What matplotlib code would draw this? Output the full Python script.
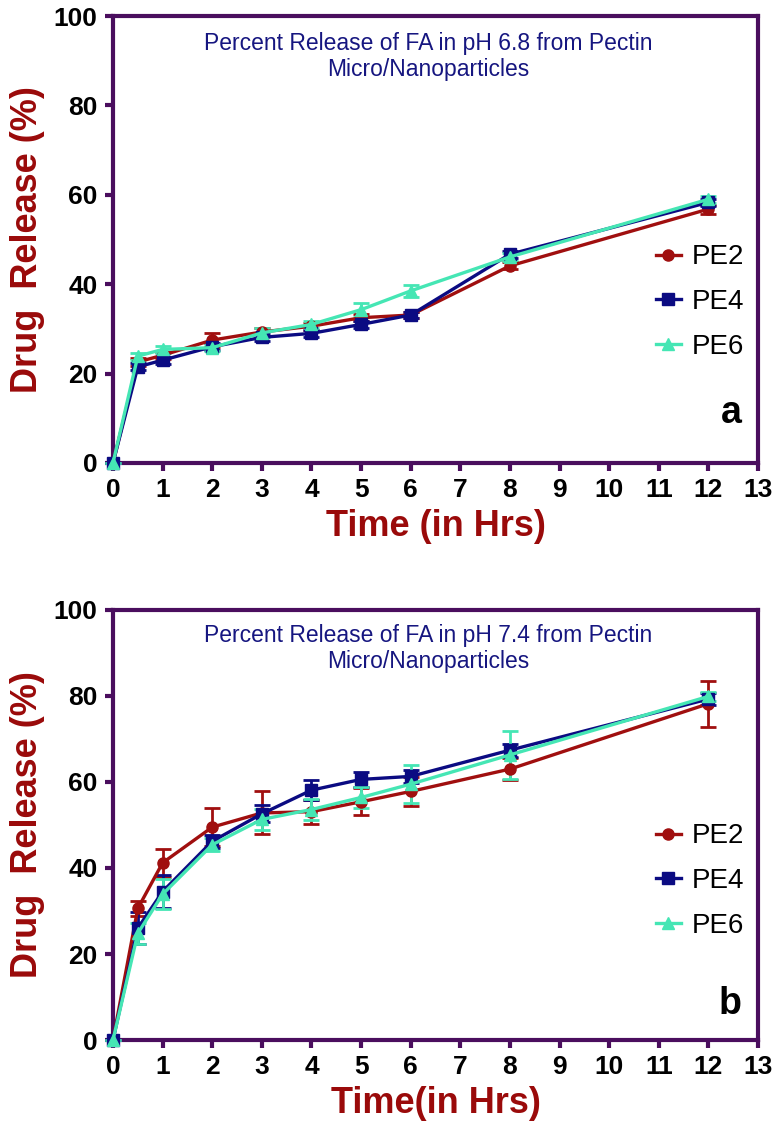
import numpy as np
import matplotlib
matplotlib.use('Agg')
import matplotlib.pyplot as plt

plt.rcParams['font.family'] = ['Liberation Sans', 'DejaVu Sans']

# time points (hours)
time_h = [0, 0.5, 1, 2, 3, 4, 5, 6, 8, 12]
series_names = ['PE2', 'PE4', 'PE6']

# panel a: pH 6.8
a_pe2 = [0, 22.6, 24.1, 27.5, 29.3, 30.6, 32.5, 33.1, 44.1, 56.8]
a_pe4 = [0, 21.5, 23.0, 26.0, 28.1, 29.0, 31.0, 33.1, 46.7, 58.3]
a_pe6 = [0, 23.9, 25.4, 25.8, 29.1, 31.0, 34.3, 38.5, 46.1, 59.0]
a_pe2_err = [0, 0.8, 0.8, 1.5, 0.8, 0.8, 0.8, 0.6, 0.8, 1.0]
a_pe4_err = [0, 0.8, 0.8, 0.8, 0.8, 0.8, 0.8, 0.6, 0.8, 0.8]
a_pe6_err = [0, 0.8, 0.8, 0.8, 1.0, 0.8, 1.6, 1.4, 0.8, 0.8]

# panel b: pH 7.4
b_pe2 = [0, 30.6, 41.2, 49.5, 52.8, 53.1, 55.4, 57.8, 63.0, 78.2]
b_pe4 = [0, 26.0, 34.5, 46.2, 52.6, 58.1, 60.6, 61.3, 67.4, 79.3]
b_pe6 = [0, 24.8, 33.9, 45.4, 51.3, 53.6, 56.4, 59.5, 66.3, 79.9]
b_pe2_err = [0, 1.7, 3.3, 4.4, 5.0, 2.8, 3.1, 3.4, 2.6, 5.4]
b_pe4_err = [0, 3.7, 3.9, 1.5, 2.0, 2.3, 1.8, 1.5, 1.5, 1.5]
b_pe6_err = [0, 2.5, 3.5, 1.5, 2.5, 2.5, 2.5, 4.5, 5.6, 1.0]

colors = ['#A00F0F', '#0B0B82', '#45E6B4']
markers = ['o', 's', '^']
spine_col = '#4A0E5E'
label_col = '#9A0A0A'
title_col = '#161680'

fig = plt.figure(figsize=(7.76, 11.44), dpi=100)
ax_a = fig.add_axes([0.1456, 0.5953, 0.8312, 0.3907])
ax_b = fig.add_axes([0.1456, 0.0909, 0.8312, 0.3759])

panels = [
    (ax_a, [a_pe2, a_pe4, a_pe6], [a_pe2_err, a_pe4_err, a_pe6_err],
     'Percent Release of FA in pH 6.8 from Pectin\nMicro/Nanoparticles', 'Time (in Hrs)', 'a', 0.36, 0.09),
    (ax_b, [b_pe2, b_pe4, b_pe6], [b_pe2_err, b_pe4_err, b_pe6_err],
     'Percent Release of FA in pH 7.4 from Pectin\nMicro/Nanoparticles', 'Time(in Hrs)', 'b', 0.37, 0.06),
]

for ax, vals, errs, title, xlab, tag, leg_y, tag_y in panels:
    for name, v, e, c, m in zip(series_names, vals, errs, colors, markers):
        ax.errorbar(time_h, v, yerr=e, color=c, marker=m, markersize=8 if m != '^' else 9,
                    linewidth=2.4, elinewidth=2.0, capsize=6, capthick=2.0,
                    label=name, clip_on=False, zorder=3)
    ax.set_xlim(0, 13)
    ax.set_ylim(0, 100)
    ax.set_xticks(range(0, 14))
    ax.set_yticks(range(0, 101, 20))
    for sp in ax.spines.values():
        sp.set_color(spine_col)
        sp.set_linewidth(3)
    ax.tick_params(direction='out', length=6, width=3, color=spine_col,
                   labelsize=19, pad=5)
    for lab in ax.get_xticklabels() + ax.get_yticklabels():
        lab.set_fontweight('bold')
    ax.set_xlabel(xlab, fontsize=26, fontweight='bold', color=label_col, labelpad=5)
    ax.set_ylabel('Drug  Release (%)', fontsize=26, fontweight='bold', color=label_col, labelpad=6)
    ax.text(0.488, 0.91, title, transform=ax.transAxes, ha='center', va='center',
            fontsize=16.5, color=title_col, linespacing=1.15)
    ax.text(0.975, tag_y, tag, transform=ax.transAxes, ha='right', va='baseline',
            fontsize=27, fontweight='bold')
    handles, labels = ax.get_legend_handles_labels()
    handles = [h[0] for h in handles]
    ax.legend(handles, labels, loc='center right', bbox_to_anchor=(1.005, leg_y),
              frameon=False, fontsize=20, handlelength=0.9, handletextpad=0.4,
              labelspacing=0.67, borderaxespad=0.2)

fig.savefig('out.png', dpi=100)
